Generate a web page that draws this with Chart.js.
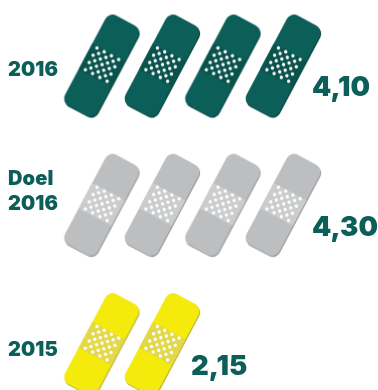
<!DOCTYPE html>
<html>
<head>
<meta charset="utf-8">
<script src="https://cdn.jsdelivr.net/npm/chart.js@4"></script>
<style>
  html, body { margin: 0; padding: 0; background: #fff; }
  canvas { display: block; }
</style>
</head>
<body>
<canvas id="myChart" width="378" height="390"></canvas>
<script>
const rowNames = [['2016'], ['Doel', '2016'], ['2015']];
const rowValues = [4.10, 4.30, 2.15];
const valueLabels = ['4,10', '4,30', '2,15'];

const mainColors = ['#0b5f58', '#bdbec0', '#f4ea0b'];
const edgeColors = ['#08463f', '#9b9c9e', '#bcb43c'];
const padColors = ['#0a534c', '#cbcccd', '#e2d84a'];

const textColor = '#0b5f58';

// one plaster, tilted, on its own little canvas so it can be a point style
function makePlaster(main, edge, pad){
    const c = document.createElement('canvas');
    c.width = 90;
    c.height = 120;
    const g = c.getContext('2d');
    const len = 102, wid = 37, r = 8;

    g.translate(45, 60);
    g.rotate(28 * Math.PI / 180);

    g.fillStyle = edge;
    g.beginPath();
    g.roundRect(-wid / 2 + 1.3, -len / 2 + 0.9, wid, len, r);
    g.fill();

    g.fillStyle = main;
    g.beginPath();
    g.roundRect(-wid / 2, -len / 2, wid, len, r);
    g.fill();

    g.fillStyle = pad;
    g.fillRect(-wid / 2, -15, wid, 29);

    g.fillStyle = '#fff';
    const step = 8.2;
    for(let a = -1.5; a <= 1.5; a += 0.5){
        for(let b = -1.5; b <= 1.5; b += 0.5){
            // outer 4x4 grid plus the 3x3 grid sitting in its gaps
            const onOuter = Math.abs(a % 1) === 0.5 && Math.abs(b % 1) === 0.5;
            const onInner = a % 1 === 0 && b % 1 === 0;
            if(!onOuter && !onInner) continue;
            g.beginPath();
            g.arc(a * step, b * step - 1, 1.7, 0, Math.PI * 2);
            g.fill();
        }
    }
    return c;
}

// a whole plaster per full unit
const datasets = rowValues.map((value, row) => {
    const points = [];
    for(let i = 0; i < Math.floor(value); i++){
        points.push({x: i + 0.5, y: row});
    }
    return {
        data: points,
        pointStyle: makePlaster(mainColors[row], edgeColors[row], padColors[row]),
        pointRadius: 10,
        showLine: false,
        clip: false
    };
});

// row names on the left, value next to the last plaster
const rowText = {
    id: 'rowText',
    afterDatasetsDraw(chart){
        const ctx = chart.ctx;
        const xs = chart.scales.x;
        const ys = chart.scales.y;
        ctx.save();
        ctx.fillStyle = textColor;
        ctx.textBaseline = 'middle';
        ctx.textAlign = 'left';

        const nameOffsets = [4.5, -26, 6];
        rowNames.forEach((lines, row) => {
            ctx.font = '900 20px Inter';
            ctx.letterSpacing = '0.1px';
            const y = ys.getPixelForValue(row) + nameOffsets[row];
            lines.forEach((line, n) => {
                ctx.fillText(line, 8, y + n * 25);
            });
        });

        ctx.font = '900 27.5px Inter';
        ctx.letterSpacing = '0px';
        valueLabels.forEach((label, row) => {
            const x = xs.getPixelForValue(Math.floor(rowValues[row]) - 0.5) + 29;
            ctx.fillText(label, x, ys.getPixelForValue(row) + 22.5);
        });
        ctx.restore();
    }
};

const ctx = document.getElementById('myChart').getContext('2d');
const myChart = new Chart(ctx, {
    type: 'scatter',
    data: {datasets: datasets},
    plugins: [rowText],
    options: {
        responsive: false,
        animation: false,
        layout: {padding: 0, autoPadding: false},
        plugins: {
            legend: {display: false},
            tooltip: {enabled: false}
        },
        scales: {
            x: {type: 'linear', display: false, min: -1.178, max: 5.07},
            y: {type: 'linear', display: false, reverse: true, min: -0.47, max: 2.33}
        }
    }
});
</script>
</body>
</html>
